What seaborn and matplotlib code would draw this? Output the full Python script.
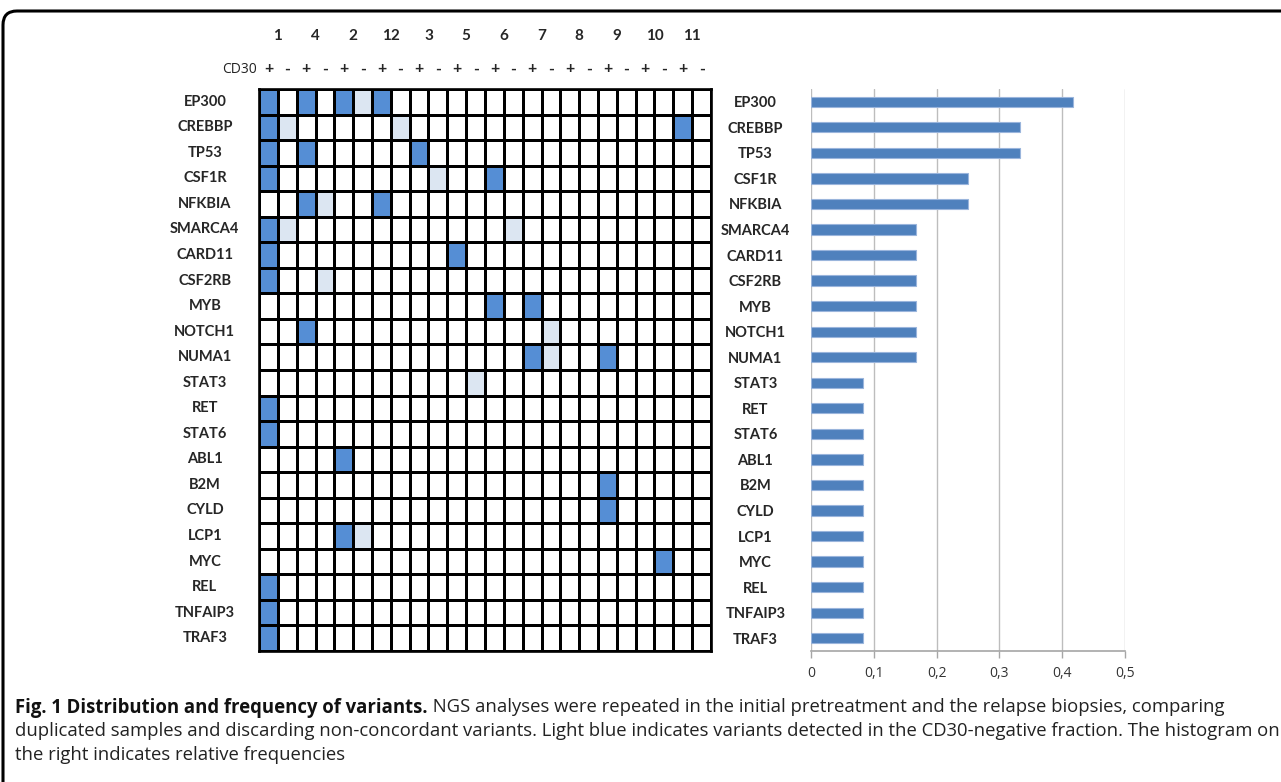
import numpy as np
import pandas as pd
import seaborn as sns
import matplotlib
matplotlib.use("Agg")
import matplotlib.pyplot as plt
from matplotlib.colors import ListedColormap
from matplotlib.patches import FancyBboxPatch
from matplotlib.ticker import FuncFormatter

# ---------------- data ----------------
genes = ["EP300", "CREBBP", "TP53", "CSF1R", "NFKBIA", "SMARCA4", "CARD11",
         "CSF2RB", "MYB", "NOTCH1", "NUMA1", "STAT3", "RET", "STAT6", "ABL1",
         "B2M", "CYLD", "LCP1", "MYC", "REL", "TNFAIP3", "TRAF3"]
samples = ["1", "4", "2", "12", "3", "5", "6", "7", "8", "9", "10", "11"]
cd30_signs = ["+", "-"]
# 0 = no variant, 1 = variant (dark blue), 2 = variant in CD30-negative fraction (light blue)
status_rows = [
    "101012100000000000000000",  # EP300
    "120000020000000000000010",  # CREBBP
    "101000001000000000000000",  # TP53
    "100000000200100000000000",  # CSF1R
    "001200100000000000000000",  # NFKBIA
    "120000000000020000000000",  # SMARCA4
    "100000000010000000000000",  # CARD11
    "100200000000000000000000",  # CSF2RB
    "000000000000101000000000",  # MYB
    "001000000000000200000000",  # NOTCH1
    "000000000000001200100000",  # NUMA1
    "000000000002000000000000",  # STAT3
    "100000000000000000000000",  # RET
    "100000000000000000000000",  # STAT6
    "000010000000000000000000",  # ABL1
    "000000000000000000100000",  # B2M
    "000000000000000000100000",  # CYLD
    "000012000000000000000000",  # LCP1
    "000000000000000000000100",  # MYC
    "100000000000000000000000",  # REL
    "100000000000000000000000",  # TNFAIP3
    "100000000000000000000000",  # TRAF3
]
frequencies = [0.417, 0.333, 0.333, 0.25, 0.25, 0.167, 0.167, 0.167, 0.167,
               0.167, 0.167, 0.083, 0.083, 0.083, 0.083, 0.083, 0.083, 0.083,
               0.083, 0.083, 0.083, 0.083]
freq_ticks = [0, 0.1, 0.2, 0.3, 0.4, 0.5]

caption_bold = "Fig. 1 Distribution and frequency of variants."
caption_lines = [
    " NGS analyses were repeated in the initial pretreatment and the relapse biopsies, comparing",
    "duplicated samples and discarding non-concordant variants. Light blue indicates variants detected in the CD30-negative fraction. The histogram on",
    "the right indicates relative frequencies",
]

# ---------------- style ----------------
W, H = 1281, 782
DPI = 100
DARK = "#558ED5"
LIGHT = "#DCE6F2"
BAR = "#4F81BD"
LABEL_FONT = ["Lato", "DejaVu Sans"]
TEXT_FONT = ["Open Sans", "DejaVu Sans"]

sns.set_theme(style="white")
plt.rcParams["font.family"] = TEXT_FONT

fig = plt.figure(figsize=(W / DPI, H / DPI), dpi=DPI)

def fx(px):
    return px / W

def fy(py):
    return 1 - py / H

top, bottom = 89, 651
ax_h = fig.add_axes([fx(259), fy(bottom), fx(711 - 259), (bottom - top) / H])
ax_b = fig.add_axes([fx(811), fy(bottom), fx(1125 - 811), (bottom - top) / H])

# ---------------- heatmap ----------------
cols = [f"{s}{c}" for s in samples for c in cd30_signs]
mat = pd.DataFrame([[int(ch) for ch in r] for r in status_rows], index=genes, columns=cols)
sns.heatmap(mat, ax=ax_h, cmap=ListedColormap(["white", DARK, LIGHT]), vmin=0, vmax=2,
            cbar=False, linewidths=1.9, linecolor="black",
            xticklabels=[c for s in samples for c in cd30_signs], yticklabels=genes)
for sp in ax_h.spines.values():
    sp.set_visible(True)
    sp.set_color("black")
    sp.set_linewidth(1.9)
ax_h.xaxis.tick_top()
ax_h.tick_params(axis="x", length=0, pad=9, labelsize=11.5)
ax_h.tick_params(axis="y", length=0, pad=39, labelsize=10.5)
plt.setp(ax_h.get_xticklabels(), rotation=0, fontfamily=LABEL_FONT, fontweight="bold")
plt.setp(ax_h.get_yticklabels(), rotation=0, ha="center", fontweight="bold", fontfamily=LABEL_FONT)
ax_h.set_xlabel("")
ax_h.set_ylabel("")

sec = ax_h.secondary_xaxis("top")
sec.set_xticks([2 * i + 1 for i in range(len(samples))])
sec.set_xticklabels(samples, fontweight="bold", fontfamily=LABEL_FONT, fontsize=11)
sec.tick_params(length=0, pad=33)
sec.spines["top"].set_visible(False)

ax_h.text(-0.005, 1 + 21 / (bottom - top), "CD30", transform=ax_h.transAxes,
          ha="right", va="center_baseline", fontsize=10, fontfamily=TEXT_FONT, color="#222222")

# ---------------- bar chart ----------------
bdf = pd.DataFrame({"gene": genes, "freq": frequencies})
sns.barplot(data=bdf, x="freq", y="gene", ax=ax_b, color=BAR, width=0.4,
            edgecolor="#9AB5DC", linewidth=0.8, saturation=1, zorder=3)
ax_b.set_xlim(0, 0.5)
ax_b.set_ylim(len(genes) - 0.5, -0.5)
ax_b.set_xticks(freq_ticks)
ax_b.xaxis.set_major_formatter(FuncFormatter(lambda v, p: "0" if v == 0 else f"{v:.1f}".replace(".", ",")))
ax_b.grid(axis="x", color="#BDBDBD", linewidth=1.0, zorder=0)
ax_b.grid(axis="y", visible=False)
for name, sp in ax_b.spines.items():
    sp.set_visible(name == "bottom")
ax_b.spines["bottom"].set_color("#A6A6A6")
ax_b.spines["bottom"].set_linewidth(1.2)
ax_b.tick_params(axis="x", direction="out", length=5, color="#A6A6A6", width=1,
                 labelsize=10, pad=6, bottom=True)
ax_b.tick_params(axis="y", length=0, pad=40, labelsize=10.5)
plt.setp(ax_b.get_xticklabels(), fontfamily=TEXT_FONT, color="#333333")
plt.setp(ax_b.get_yticklabels(), ha="center", fontweight="bold", fontfamily=LABEL_FONT)
ax_b.set_xlabel("")
ax_b.set_ylabel("")

# ---------------- caption ----------------
renderer = fig.canvas.get_renderer()
probe = fig.text(0, 0, caption_lines[1], fontsize=12, fontfamily=TEXT_FONT)
wpx = probe.get_window_extent(renderer).width
probe.remove()
cap_size = 12 * (1258 / wpx)

x0 = fx(15)
line_y = [705, 729, 753]
tb = fig.text(x0, fy(line_y[0]), caption_bold, fontsize=cap_size, fontweight="bold",
              fontfamily=TEXT_FONT, va="center_baseline", color="#111111")
bb = tb.get_window_extent(renderer)
fig.text(bb.x1 / W, fy(line_y[0]), caption_lines[0], fontsize=cap_size,
         fontfamily=TEXT_FONT, va="center_baseline", color="#222222")
for ly, t in zip(line_y[1:], caption_lines[1:]):
    fig.text(x0, fy(ly), t, fontsize=cap_size, fontfamily=TEXT_FONT,
             va="center_baseline", color="#222222")

# ---------------- frame ----------------
frame = FancyBboxPatch((3, -40), 1400, (H - 11) + 40,
                       boxstyle="round,pad=0,rounding_size=14",
                       transform=None, fill=False, edgecolor="black", linewidth=2.2)
fig.patches.append(frame)

fig.savefig("out.png", dpi=DPI)
